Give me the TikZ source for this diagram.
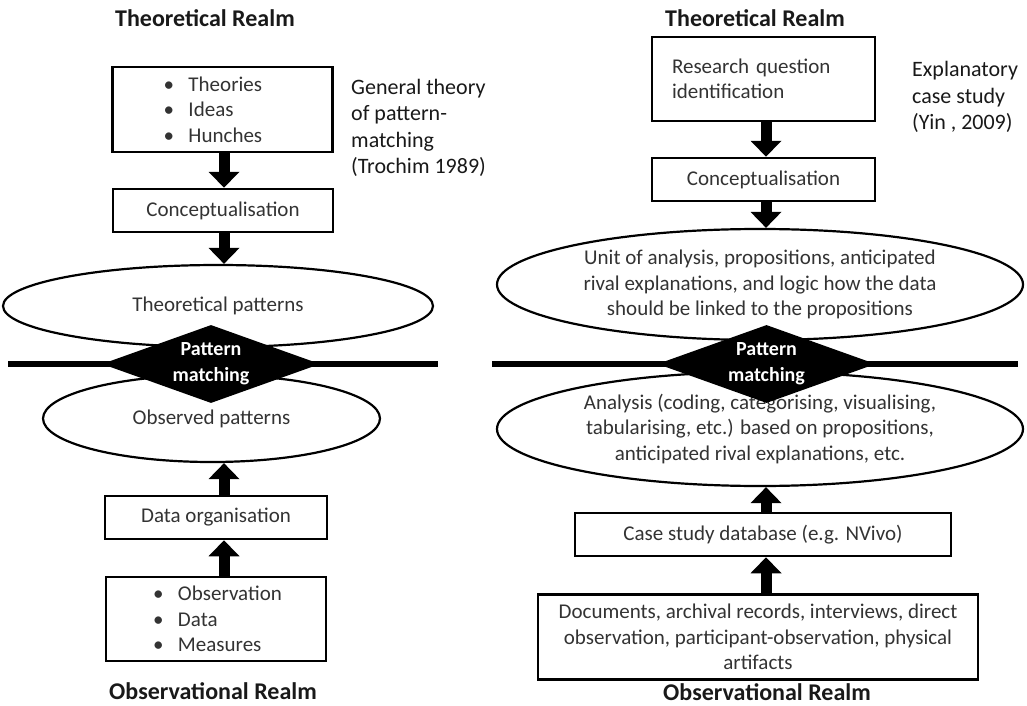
\documentclass[tikz,border=0pt]{standalone}
\usepackage{fontspec}
\setmainfont{Carlito}
\usepackage{tikz}
\usetikzlibrary{shapes.geometric,arrows.meta}

\tikzset{
  box/.style={draw, line width=2.5pt, fill=white, inner sep=0pt, align=center, text=black!80, font=\fontsize{21}{25.5}\selectfont},
  bulletbox/.style={box, text width=126pt, inner xsep=47pt, align=left},
  oval/.style={ellipse, draw, line width=2.2pt, fill=white, inner sep=0pt, align=center, text=black!80, font=\fontsize{21}{25.5}\selectfont},
  patmatch/.style={diamond, fill=black, inner sep=0pt, minimum width=218pt, minimum height=78pt},
  pmtext/.style={text=white, align=center, font=\fontsize{20}{26}\selectfont\bfseries},
  realm/.style={font=\fontsize{24}{28}\selectfont\bfseries, text=black!90, inner sep=0pt},
  remark/.style={font=\fontsize{22}{26.5}\selectfont, text=black!90, align=left, anchor=west, inner sep=0pt},
  divider/.style={line width=6pt},
  blockarrow/.style={line width=11pt, -{Triangle[width=30pt,length=16pt]}}
}
\newcommand{\itm}[1]{\makebox[25pt][l]{\textbullet}#1}

\begin{document}
\begin{tikzpicture}[x=1pt, y=-1pt]
  \useasboundingbox (0,0) rectangle (1027,706);

  \coordinate (axL) at (224,0);
  \coordinate (axR) at (766,0);

  \node[realm] (thL) at (205,18.5) {Theoretical Realm};
  \node[bulletbox, minimum height=85pt, inner xsep=51pt, text width=118pt] (theoriesL) at (222.5,109.5) {\itm{Theories}\\\itm{Ideas}\\\itm{Hunches}};
  \node[box, minimum width=220pt, minimum height=43pt] (concL) at (223,210.5) {Conceptualisation};
  \node[oval, minimum width=430pt, minimum height=82pt] (tpatL) at (218,306) {Theoretical patterns};
  \node[oval, minimum width=337pt, minimum height=87pt] (opatL) at (211.5,418.5) {Observed patterns};
  \node[box, minimum width=222pt, minimum height=43pt] (dataorgL) at (216,517.5) {Data organisation};
  \node[bulletbox, minimum height=84pt] (obsL) at (216,619) {\itm{Observation}\\\itm{Data}\\\itm{Measures}};
  \node[realm] (obL) at (213,691) {Observational Realm};
  \node[remark] (noteL) at (351,128) {General theory\\of pattern-\\matching\\(Trochim 1989)};

  \node[realm] (thR) at (755,18.5) {Theoretical Realm};
  \node[box, text width=183pt, inner xsep=20pt, align=left, minimum height=84pt] (rqR) at (763.5,79) {Research question\\identification};
  \node[box, minimum width=223pt, minimum height=43pt] (concR) at (763.5,179.5) {Conceptualisation};
  \node[oval, minimum width=526pt, minimum height=111pt] (unitR) at (760,284.5) {Unit of analysis, propositions, anticipated\\rival explanations, and logic how the data\\should be linked to the propositions};
  \node[oval, minimum width=526pt, minimum height=114pt] (anaR) at (760,429) {Analysis (coding, categorising, visualising,\\tabularising, etc.) based on propositions,\\anticipated rival explanations, etc.};
  \node[box, minimum width=376pt, minimum height=43pt] (caseR) at (763,534.5) {Case study database (e.g. NVivo)};
  \node[box, minimum width=440pt, minimum height=85pt] (docR) at (758,637) {Documents, archival records, interviews, direct\\observation, participant-observation,  physical\\artifacts};
  \node[realm] (obR) at (767,692) {Observational Realm};
  \node[remark] (noteR) at (912,97) {Explanatory\\case study\\(Yin , 2009)};

  \coordinate (divL1) at (8,364);
  \coordinate (divL2) at (438,364);
  \coordinate (divR1) at (492,364);
  \coordinate (divR2) at (1018,364);
  \draw[divider] (divL1) -- (divL2);
  \draw[divider] (divR1) -- (divR2);

  \node[patmatch, label={[pmtext]center:Pattern\\matching}] (pmL) at (211,364) {};
  \node[patmatch, label={[pmtext]center:Pattern\\matching}] (pmR) at (766.5,364) {};

  \draw[blockarrow] (theoriesL.south -| axL) -- (concL.north -| axL);
  \draw[blockarrow] (concL.south -| axL) -- (tpatL.north -| axL);
  \draw[blockarrow] (dataorgL.north -| axL) -- (opatL.south -| axL);
  \draw[blockarrow] (obsL.north -| axL) -- (dataorgL.south -| axL);

  \draw[blockarrow] (rqR.south -| axR) -- (concR.north -| axR);
  \draw[blockarrow] (concR.south -| axR) -- (unitR.north -| axR);
  \draw[blockarrow] (caseR.north -| axR) -- (anaR.south -| axR);
  \draw[blockarrow] (docR.north -| axR) -- (caseR.south -| axR);
\end{tikzpicture}
\end{document}
